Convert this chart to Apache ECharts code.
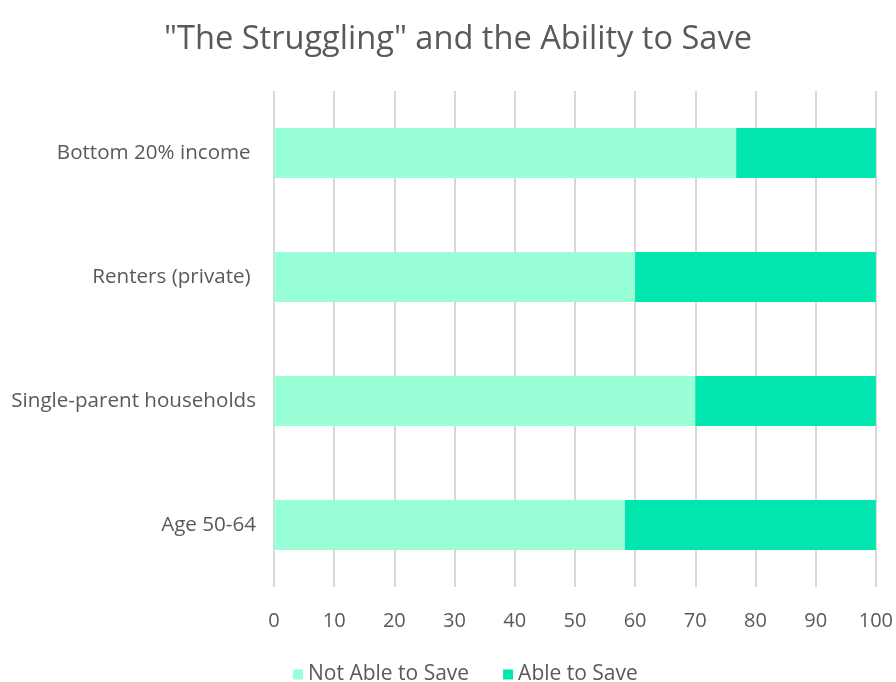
<!DOCTYPE html>
<html>
<head>
<meta charset="utf-8">
<script src="https://cdn.jsdelivr.net/npm/echarts@6/dist/echarts.min.js"></script>
<style>
  html, body { margin: 0; padding: 0; background: #fff; }
  #chart { width: 896px; height: 682px; }
</style>
</head>
<body>
<div id="chart"></div>
<script>
// Groups, listed bottom to top as the category axis draws them
const categories = ['Age 50-64', 'Single-parent households', 'Renters (private) ', 'Bottom 20% income '];
// Share (%) of each group not able to save / able to save
const notAbleToSave = [58.3, 70, 60, 76.8];
const ableToSave = [41.7, 30, 40, 23.2];
const xTicks = { min: 0, max: 100, interval: 10 };

const textColor = '#595959';
const font = '"Open Sans", "Noto Sans", sans-serif';

const chart = echarts.init(document.getElementById('chart'), null, { renderer: 'canvas' });
chart.setOption({
  backgroundColor: '#ffffff',
  animation: false,
  title: {
    text: '"The Struggling" and the Ability to Save',
    left: 159,
    top: 18,
    textStyle: { color: textColor, fontFamily: font, fontSize: 32.6, fontWeight: 'normal' }
  },
  legend: {
    top: 659,
    left: 288,
    itemWidth: 10,
    itemHeight: 10,
    itemGap: 34,
    itemStyle: { borderWidth: 0 },
    icon: 'rect',
    textStyle: { color: textColor, fontFamily: font, fontSize: 21 },
    data: ['Not Able to Save', 'Able to Save']
  },
  grid: { left: 274, right: 19, top: 91, bottom: 95, containLabel: false },
  xAxis: {
    type: 'value',
    min: xTicks.min,
    max: xTicks.max,
    interval: xTicks.interval,
    axisLine: { show: false },
    axisTick: { show: false },
    axisLabel: { color: textColor, fontFamily: font, fontSize: 20, margin: 24 },
    splitLine: { show: true, lineStyle: { color: '#d9d9d9', width: 2 } }
  },
  yAxis: {
    type: 'category',
    data: categories,
    axisLine: { show: false },
    axisTick: { show: false },
    axisLabel: { color: textColor, fontFamily: font, fontSize: 20.6, margin: 18 }
  },
  series: [
    {
      name: 'Not Able to Save',
      type: 'bar',
      stack: 'total',
      barWidth: 50,
      itemStyle: { color: '#99ffd6' },
      data: notAbleToSave
    },
    {
      name: 'Able to Save',
      type: 'bar',
      stack: 'total',
      barWidth: 50,
      itemStyle: { color: '#00e6ae' },
      data: ableToSave
    }
  ]
});
</script>
</body>
</html>
